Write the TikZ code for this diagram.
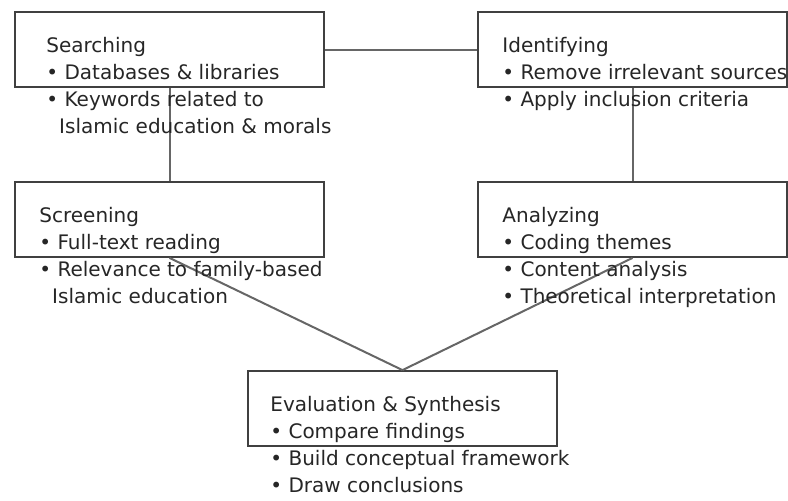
\documentclass[tikz,border=0pt]{standalone}
\usepackage{fontspec}
\setmainfont{DejaVu Sans}
\begin{document}
\begin{tikzpicture}[x=0.5pt,y=-0.5pt,
        stage/.style={draw=black!75, line width=0.9pt, fill=white, minimum width=154.5pt, minimum height=37.5pt, inner sep=0pt},
        notes/.style={anchor=north west, align=left, inner sep=0pt, text=black!85, font=\fontsize{10pt}{13.5pt}\selectfont},
        link/.style={draw=black!60, line width=1pt}]
        \useasboundingbox (0,0) rectangle (788,500);

        \node[stage] (search) at (169.5,49.5) {}; %searching
        \node[stage] (ident) at (632.5,49.5) {}; %identifying
        \node[stage] (screen) at (169.5,219.5) {}; %screening
        \node[stage] (analyze) at (632.5,219.5) {}; %analyzing
        \node[stage] (evalsyn) at (402.5,408.5) {}; %evaluation

        \draw[link] (search.east) -- (ident.west);
        \draw[link] (search.south) -- (screen.north);
        \draw[link] (ident.south) -- (analyze.north);
        \draw[link] (screen.south) -- (evalsyn.north);
        \draw[link] (analyze.south) -- (evalsyn.north);

        \node[notes] (searchtxt) at (46,37) {Searching\\• Databases \& libraries\\• Keywords related to\\\hspace*{.64em}Islamic education \& morals};
        \node[notes] (identtxt) at (502,37) {Identifying\\• Remove irrelevant sources\\• Apply inclusion criteria};
        \node[notes] (screentxt) at (39,207) {Screening\\• Full-text reading\\• Relevance to family-based\\\hspace*{.64em}Islamic education};
        \node[notes] (analyzetxt) at (502,207) {Analyzing\\• Coding themes\\• Content analysis\\• Theoretical interpretation};
        \node[notes] (evaltxt) at (270,396) {Evaluation \& Synthesis\\• Compare findings\\• Build conceptual framework\\• Draw conclusions};
    \end{tikzpicture}
\end{document}
